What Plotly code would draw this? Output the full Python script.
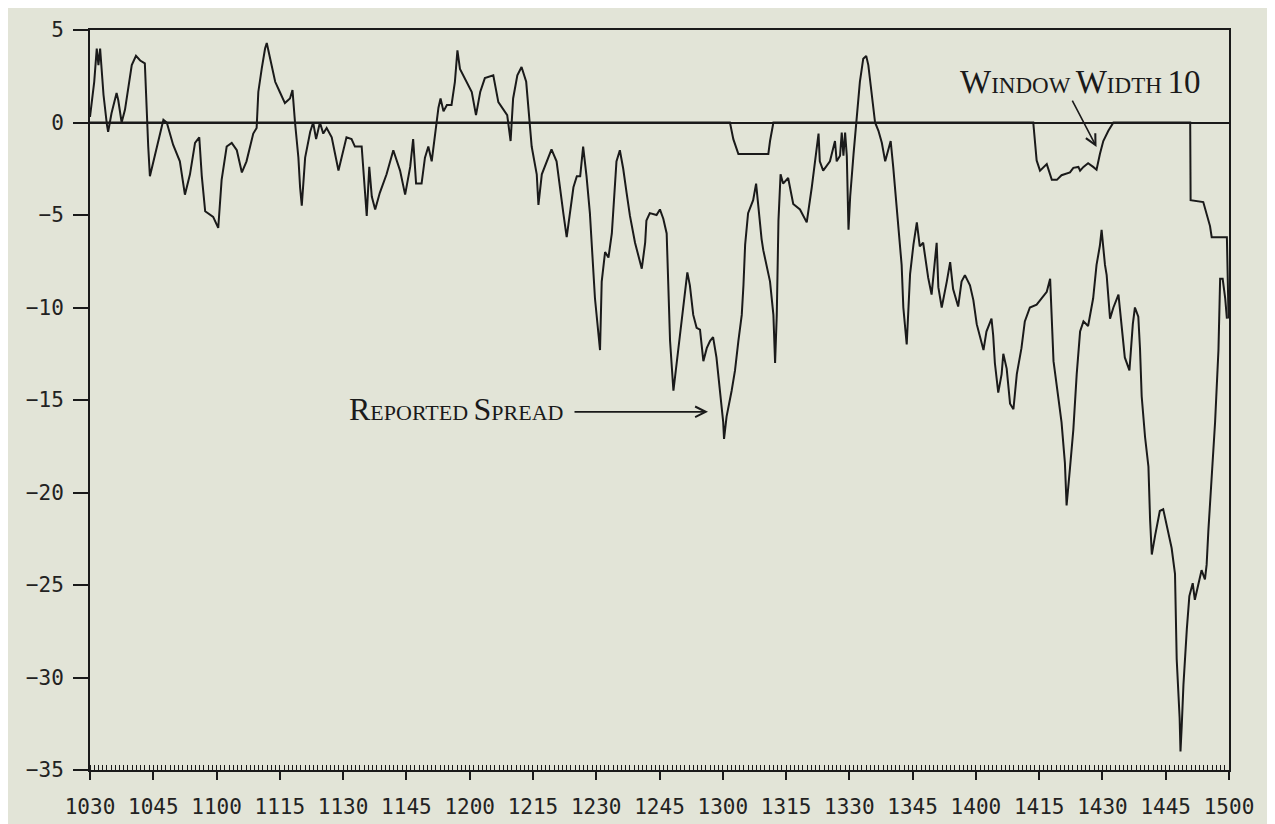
import plotly.graph_objects as go

# ---- data (minutes after 10:30, spread value) ----
spread_t = [0, 1.0, 1.6, 2.0, 2.4, 3.2, 4.0, 4.3, 5.1, 6.3, 6.7, 7.5, 8.3, 9.1, 9.9, 10.9, 11.9, 13.0,
            13.4, 13.8, 14.2, 15.0, 16.2, 17.4, 18.2, 19.7, 21.3, 22.5, 23.7, 24.9, 25.9, 26.5, 27.3,
            29.2, 30.4, 31.2, 32.4, 33.6, 34.8, 36.0, 37.1, 37.9, 38.7, 39.5, 39.9, 40.7, 41.5, 41.9,
            42.7, 43.9, 45.0, 46.2, 47.4, 48.0, 48.6, 49.4, 49.8, 50.2, 51.0, 52.2, 52.9, 53.6, 54.5,
            55.3, 56.1, 57.3, 58.1, 58.9, 60.8, 62.0, 62.8, 64.4, 65.2, 65.6, 66.2, 66.8, 67.6, 68.7,
            70.3, 71.9, 73.5, 74.7, 75.9, 76.6, 77.3, 78.6, 79.4, 80.2, 81.0, 81.4, 82.0, 82.6, 83.1,
            83.8, 84.6, 85.7, 86.5, 87.1, 87.7, 89.3, 90.5, 91.5, 92.5, 93.6, 95.6, 96.8, 98.0, 98.9,
            99.7, 100.3, 101.3, 102.3, 103.4, 103.9, 104.7, 105.9, 106.3, 107.1, 108.3, 109.4, 110.6,
            111.4, 112.2, 113.0, 113.8, 114.6, 115.4, 116.2, 116.9, 117.7, 118.5, 119.3, 119.7, 120.9,
            121.3, 122.1, 122.9, 123.7, 124.5, 124.8, 125.6, 126.4, 127.2, 128.0, 129.2, 130.4, 130.8,
            131.6, 131.9, 132.7, 134.3, 135.1, 135.9, 136.7, 137.1, 137.5, 138.3, 139.1, 139.9, 141.0,
            141.6, 142.2, 143.0, 143.8, 144.6, 145.4, 146.2, 147.0, 147.7, 148.5, 149.3, 150.1, 150.3,
            150.9, 152.1, 152.9, 153.7, 154.5, 154.9, 155.3, 156.0, 157.2, 157.9, 158.4, 159.2, 159.6,
            160.8, 161.2, 162.0, 162.4, 162.8, 163.2, 163.7, 164.3, 165.5, 166.7, 168.3, 169.9, 171.1,
            171.9, 172.7, 173.0, 173.8, 175.4, 176.6, 177.0, 177.8, 178.2, 178.6, 179.0, 179.4, 179.8,
            180.2, 181.0, 181.6, 182.5, 183.3, 184.0, 184.5, 185.3, 186.1, 186.9, 187.7, 188.5, 189.2,
            189.8, 190.4, 191.2, 192.0, 192.4, 192.8, 193.6, 194.4, 195.2, 196.0, 196.7, 197.5, 198.7,
            199.5, 200.3, 200.7, 201.1, 201.9, 203.1, 203.9, 204.6, 205.8, 206.6, 207.4, 208.6, 209.4,
            210.2, 211.0, 211.8, 212.5, 213.7, 214.1, 214.5, 215.3, 216.1, 216.5, 217.3, 218.1, 218.9,
            219.7, 220.8, 221.6, 222.8, 224.4, 225.6, 226.8, 227.6, 228.4, 229.5, 230.3, 231.1, 231.5,
            232.3, 233.1, 233.9, 234.7, 235.5, 236.6, 237.8, 238.6, 239.4, 239.8, 240.6, 241.0, 241.8,
            242.6, 243.8, 244.5, 245.3, 246.4, 247.2, 247.7, 248.5, 248.9, 249.3, 250.1, 250.9, 251.3,
            251.7, 252.5, 253.6, 254.4, 255.2, 256.4, 257.2, 257.4, 257.6, 258.3, 258.5, 258.8, 259.2,
            260.0, 260.6, 261.4, 261.9, 262.7, 263.5, 264.3, 264.7, 265.1, 265.5, 265.7, 266.7, 267.5,
            267.9, 268.5, 269.1, 269.5]
spread_v = [0.3, 2.2, 4.0, 3.1, 4.0, 1.5, -0.1, -0.5, 0.5, 1.6, 1.2, 0.0, 0.7, 1.9, 3.1, 3.6, 3.35, 3.2,
            0.4, -1.3, -2.9, -2.1, -1.0, 0.15, 0.0, -1.2, -2.1, -3.9, -2.8, -1.1, -0.8, -2.9, -4.8,
            -5.1, -5.7, -3.1, -1.3, -1.1, -1.5, -2.7, -2.1, -1.3, -0.6, -0.3, 1.65, 2.9, 4.0, 4.3,
            3.4, 2.2, 1.65, 1.05, 1.3, 1.75, 0.0, -1.9, -3.5, -4.5, -1.9, -0.5, 0.0, -0.9, 0.0,
            -0.6, -0.3, -0.8, -1.7, -2.6, -0.8, -0.9, -1.3, -1.3, -3.8, -5.05, -2.4, -4.0, -4.7, -3.8,
            -2.8, -1.5, -2.6, -3.9, -2.4, -0.9, -3.3, -3.3, -1.9, -1.3, -2.1, -1.3, -0.1, 0.8, 1.3,
            0.6, 0.95, 0.95, 2.2, 3.9, 2.9, 2.2, 1.65, 0.4, 1.65, 2.4, 2.55, 1.1, 0.7, 0.4,
            -1.0, 1.3, 2.55, 3.0, 2.2, 0.7, -1.3, -2.8, -4.45, -2.8, -2.1, -1.45, -2.1,
            -3.65, -4.9, -6.2, -4.9, -3.5, -2.9, -2.9, -1.3, -2.9, -4.9, -7.9, -9.5, -12.3,
            -8.6, -7.0, -7.3, -6.0, -3.1, -2.1, -1.5, -2.5, -3.8, -5.05, -6.5, -7.55, -7.9,
            -6.5, -5.3, -4.9, -5.0, -4.7, -5.2, -6.0, -8.6, -11.8, -14.5, -13.0, -11.3, -9.5,
            -8.1, -8.8, -10.4, -11.1, -11.2, -12.9, -12.2, -11.8, -11.6, -12.7, -14.5, -16.2, -17.1,
            -15.9, -14.5, -13.4, -11.8, -10.4, -8.8, -6.6, -4.9, -4.2, -3.3, -4.5, -6.3, -6.9,
            -8.3, -8.6, -10.4, -13.0, -10.4, -5.3, -2.8, -3.3, -3.0, -4.4, -4.7, -5.4, -3.5,
            -1.9, -0.6, -2.1, -2.6, -2.1, -1.0, -2.1, -1.8, -0.55, -1.8, -0.55, -1.8, -5.8,
            -4.0, -1.7, 0.0, 2.2, 3.45, 3.6, 3.1, 1.65, 0.0, -0.45, -1.1, -2.1, -1.5,
            -1.0, -2.4, -4.5, -6.65, -7.7, -10.0, -12.0, -8.2, -6.6, -5.4, -6.7, -6.5, -8.4,
            -9.3, -7.4, -6.5, -8.9, -10.0, -8.6, -7.55, -9.0, -9.95, -8.6, -8.25, -8.8, -9.6,
            -10.9, -11.6, -12.3, -11.3, -10.6, -11.5, -13.0, -14.6, -13.6, -12.5, -13.3, -15.2, -15.5,
            -13.6, -12.2, -10.75, -10.0, -9.85, -9.5, -9.15, -8.45, -12.9, -14.8, -16.2, -18.4, -20.7,
            -18.7, -16.6, -13.6, -11.3, -10.75, -11.0, -9.5, -7.7, -6.65, -5.8, -7.7, -8.25, -10.6,
            -10.0, -9.3, -10.9, -12.7, -13.4, -10.9, -10.0, -10.5, -12.2, -14.8, -17.0, -18.6, -21.5,
            -23.35, -22.3, -21.0, -20.9, -21.75, -23.0, -24.4, -26.5, -29.0, -32.2, -34.0, -32.6, -30.4,
            -27.4, -25.6, -24.9, -25.8, -25.0, -24.2, -24.7, -23.9, -22.1, -20.7, -19.4, -16.2, -12.3,
            -8.45, -8.45, -9.5, -10.6]

window_t = [0, 151.7, 152.5, 153.7, 160.8, 161.2, 162.0, 223.6, 224.4, 225.2, 226.8, 228.0, 229.2,
            230.3, 232.3, 233.1, 234.3, 234.7, 235.5, 236.6, 237.8, 238.6, 239.4, 240.2, 241.4, 242.6,
            260.8, 260.9, 263.9, 265.5, 265.9, 269.5, 269.9]
window_v = [0, 0, -0.9, -1.7, -1.7, -1.0, 0, 0, -2.05, -2.6, -2.25, -3.1, -3.1,
            -2.85, -2.7, -2.45, -2.4, -2.6, -2.4, -2.2, -2.4, -2.55, -1.7, -1.0, -0.45, 0,
            0, -4.2, -4.3, -5.6, -6.2, -6.2, -10.6]

x_tick_labels = ["1030", "1045", "1100", "1115", "1130", "1145", "1200", "1215", "1230", "1245",
                 "1300", "1315", "1330", "1345", "1400", "1415", "1430", "1445", "1500"]
y_ticks = [5, 0, -5, -10, -15, -20, -25, -30, -35]

BG = "#e2e4d7"
INK = "#1a1a1a"

fig = go.Figure()
fig.add_trace(go.Scatter(x=window_t, y=window_v, mode="lines",
                         line=dict(color=INK, width=2), hoverinfo="skip", showlegend=False))
fig.add_trace(go.Scatter(x=spread_t, y=spread_v, mode="lines",
                         line=dict(color=INK, width=2), showlegend=False))

tick_font = dict(family="DejaVu Sans Mono", size=21, color="#222222")

fig.update_xaxes(range=[0, 270], tickmode="array",
                 tickvals=[15 * i for i in range(len(x_tick_labels))], ticktext=x_tick_labels,
                 ticks="outside", ticklen=8, tickwidth=1.5, tickcolor=INK,
                 minor=dict(tickmode="linear", tick0=0, dtick=1, ticks="inside", ticklen=5,
                            tickwidth=1.2, tickcolor=INK),
                 showline=True, linecolor=INK, linewidth=2, mirror=True,
                 showgrid=False, zeroline=False, tickfont=tick_font, ticklabelstandoff=9,
                 ticklabeloverflow="allow")
fig.update_yaxes(range=[-35, 5], tickmode="array", tickvals=y_ticks,
                 ticktext=[str(v) if v >= 0 else "\u2212" + str(-v) for v in y_ticks],
                 ticks="outside", ticklen=15, tickwidth=1.5, tickcolor=INK,
                 showline=True, linecolor=INK, linewidth=2, mirror=True,
                 showgrid=False, zeroline=True, zerolinecolor=INK, zerolinewidth=2,
                 tickfont=tick_font, ticklabelstandoff=5, ticklabeloverflow="allow")

serif = "Liberation Serif"
def smallcaps(words, big, small):
    parts = []
    for w in words:
        parts.append(f"<span style='font-size:{big}px'>{w[0]}</span>"
                     f"<span style='font-size:{small}px'>{w[1:]}</span>" if not w.isdigit()
                     else f"<span style='font-size:{big}px'>{w}</span>")
    return " ".join(parts)

fig.add_annotation(x=112.6, y=-15.5, xref="x", yref="y", xanchor="right", yanchor="middle",
                   text=smallcaps(["REPORTED", "SPREAD"], 32, 22), showarrow=False,
                   font=dict(family=serif, size=22, color=INK))
fig.add_annotation(x=146.5, y=-15.64, xref="x", yref="y", text="", showarrow=True,
                   ax=-135, ay=0, arrowhead=5, arrowsize=1.3, arrowwidth=1.6, arrowcolor=INK)
fig.add_annotation(x=263.8, y=2.18, xref="x", yref="y", xanchor="right", yanchor="middle",
                   text=smallcaps(["WINDOW", "WIDTH", "10"], 33, 23), showarrow=False,
                   font=dict(family=serif, size=23, color=INK))
fig.add_annotation(x=238.6, y=-1.33, xref="x", yref="y", text="", showarrow=True,
                   ax=-25, ay=-48, arrowhead=5, arrowsize=1.3, arrowwidth=1.6, arrowcolor=INK)

# page body has an 8px default margin; margins chosen so the frame lands where the reference has it
fig.update_layout(width=1275, height=824, margin=dict(l=82, r=54, t=10, b=62),
                  paper_bgcolor=BG, plot_bgcolor=BG, showlegend=False)

fig.write_html("out.html")
